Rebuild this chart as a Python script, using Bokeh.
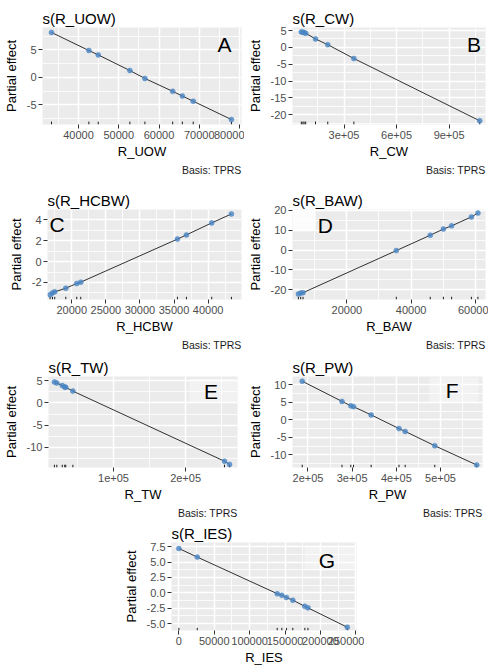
from bokeh.plotting import figure
from bokeh.models import FixedTicker, Title, Label, BoxAnnotation, Range1d, Spacer
from bokeh.layouts import column, row
from bokeh.embed import file_html
from bokeh.resources import INLINE

FONT = "Liberation Sans"

# ---------------- data ----------------
uow_x = [33280, 42570, 44900, 52760, 56500, 63400, 65800, 68500, 78000]
uow_y = [8.2, 4.9, 4.1, 1.25, -0.2, -2.55, -3.4, -4.35, -7.7]

cw_x = [56000, 65000, 72000, 81000, 137000, 207000, 356000, 1075000]
cw_y = [4.6, 4.5, 4.4, 4.2, 2.5, 0.8, -3.3, -21.8]

hcbw_x = [16820, 17170, 17500, 19120, 20730, 21320, 35500, 36820, 40530, 43420]
hcbw_y = [-3.17, -3.0, -2.9, -2.55, -2.1, -1.97, 2.15, 2.55, 3.7, 4.55]

baw_x = [4920, 5630, 6350, 35400, 45960, 50060, 52620, 58780, 60820]
baw_y = [-22.1, -21.6, -21.4, -0.3, 7.4, 10.5, 12.1, 16.6, 18.5]

tw_x = [18100, 21400, 29000, 32400, 33800, 43700, 254000, 261000]
tw_y = [4.7, 4.48, 3.9, 3.55, 3.5, 2.65, -13.1, -13.8]

pw_x = [187000, 277000, 297000, 303000, 343000, 406000, 420000, 487000, 582000]
pw_y = [11.0, 5.25, 4.0, 3.75, 1.4, -2.5, -3.3, -7.4, -12.9]

ies_x = [0, 26000, 139000, 145500, 152000, 161000, 178000, 182400, 238000]
ies_y = [7.2, 5.8, -0.15, -0.4, -0.77, -1.2, -2.2, -2.45, -5.6]

# tick values and labels
uow_xt = [40000, 50000, 60000, 70000, 80000]
uow_xl = ["40000", "50000", "60000", "70000", "80000"]
uow_xm = [35000, 45000, 55000, 65000, 75000]
uow_yt = [-5, 0, 5]
uow_yl = ["-5", "0", "5"]
uow_ym = [-7.5, -2.5, 2.5, 7.5]

cw_xt = [300000, 600000, 900000]
cw_xl = ["3e+05", "6e+05", "9e+05"]
cw_xm = [150000, 450000, 750000, 1050000]
cw_yt = [-20, -15, -10, -5, 0, 5]
cw_yl = ["-20", "-15", "-10", "-5", "0", "5"]
cw_ym = [-22.5, -17.5, -12.5, -7.5, -2.5, 2.5]

hcbw_xt = [20000, 25000, 30000, 35000, 40000]
hcbw_xl = ["20000", "25000", "30000", "35000", "40000"]
hcbw_xm = [17500, 22500, 27500, 32500, 37500, 42500]
hcbw_yt = [-2, 0, 2, 4]
hcbw_yl = ["-2", "0", "2", "4"]
hcbw_ym = [-3, -1, 1, 3]

baw_xt = [20000, 40000, 60000]
baw_xl = ["20000", "40000", "60000"]
baw_xm = [10000, 30000, 50000]
baw_yt = [-20, -10, 0, 10, 20]
baw_yl = ["-20", "-10", "0", "10", "20"]
baw_ym = [-15, -5, 5, 15]

tw_xt = [100000, 200000]
tw_xl = ["1e+05", "2e+05"]
tw_xm = [50000, 150000, 250000]
tw_yt = [-10, -5, 0, 5]
tw_yl = ["-10", "-5", "0", "5"]
tw_ym = [-12.5, -7.5, -2.5, 2.5]

pw_xt = [200000, 300000, 400000, 500000]
pw_xl = ["2e+05", "3e+05", "4e+05", "5e+05"]
pw_xm = [250000, 350000, 450000, 550000]
pw_yt = [-10, -5, 0, 5, 10]
pw_yl = ["-10", "-5", "0", "5", "10"]
pw_ym = [-12.5, -7.5, -2.5, 2.5, 7.5, 12.5]

ies_xt = [0, 50000, 100000, 150000, 200000, 250000]
ies_xl = ["0", "50000", "100000", "150000", "200000", "250000"]
ies_xm = [25000, 75000, 125000, 175000, 225000]
ies_yt = [-5.0, -2.5, 0.0, 2.5, 5.0, 7.5]
ies_yl = ["-5.0", "-2.5", "0.0", "2.5", "5.0", "7.5"]
ies_ym = [-3.75, -1.25, 1.25, 3.75, 6.25]


def panel(name, xs, ys, xr, yr, xt, xl, xm, yt, yl, ym, letter, lfx, lfy,
          box, box_alpha, width, height, bl, br, bt, bb, caption=True):
    p = figure(width=width, height=height, output_backend="svg",
               toolbar_location=None, x_range=Range1d(*xr), y_range=Range1d(*yr),
               min_border_left=bl, min_border_right=br,
               min_border_top=bt, min_border_bottom=bb,
               background_fill_color="#EBEBEB", border_fill_color="white",
               outline_line_color=None)
    p.title.text = "s(%s)" % name
    p.title.text_font = FONT
    p.title.text_font_size = "15px"
    p.title.text_font_style = "normal"
    p.title.text_color = "black"
    p.title.standoff = 2
    p.title.align = "left"

    p.xaxis.ticker = FixedTicker(ticks=xt, minor_ticks=xm)
    p.yaxis.ticker = FixedTicker(ticks=yt, minor_ticks=ym)
    p.xaxis.major_label_overrides = {v: s for v, s in zip(xt, xl)}
    p.yaxis.major_label_overrides = {v: s for v, s in zip(yt, yl)}
    p.xaxis.axis_label = name
    p.yaxis.axis_label = "Partial effect"
    for ax in (p.xaxis, p.yaxis):
        ax.axis_line_color = None
        ax.major_tick_line_color = "#333333"
        ax.major_tick_out = 4
        ax.major_tick_in = 0
        ax.minor_tick_line_color = None
        ax.major_label_text_font = FONT
        ax.major_label_text_font_size = "11px"
        ax.major_label_text_color = "#4D4D4D"
        ax.major_label_standoff = 2
        ax.axis_label_text_font = FONT
        ax.axis_label_text_font_size = "13px"
        ax.axis_label_text_font_style = "normal"
        ax.axis_label_text_color = "black"
    p.xaxis.axis_label_standoff = 2
    p.yaxis.axis_label_standoff = 5

    for g in (p.xgrid, p.ygrid):
        g.grid_line_color = "white"
        g.grid_line_width = 1.5
        g.minor_grid_line_color = "white"
        g.minor_grid_line_width = 0.8

    n = len(xs)
    ybase = yr[0]
    ytop = yr[0] + 0.03 * (yr[1] - yr[0])
    p.segment(x0=xs, y0=[ybase] * n, x1=xs, y1=[ytop] * n,
              line_color="#1a1a1a", line_width=1)
    p.line(xs, ys, line_color="black", line_width=0.8)
    p.scatter(xs, ys, size=5, fill_color="#4A86C4", line_color="#4A86C4",
              line_width=0.5, fill_alpha=0.8, line_alpha=0.9)

    if box is not None:
        fx0, fx1, fy0, fy1 = box
        p.add_layout(BoxAnnotation(
            left=xr[0] + fx0 * (xr[1] - xr[0]), right=xr[0] + fx1 * (xr[1] - xr[0]),
            bottom=yr[0] + fy0 * (yr[1] - yr[0]), top=yr[0] + fy1 * (yr[1] - yr[0]),
            fill_color="white", fill_alpha=box_alpha, line_color=None))
    p.add_layout(Label(x=xr[0] + lfx * (xr[1] - xr[0]), y=yr[0] + lfy * (yr[1] - yr[0]),
                       text=letter, text_font=FONT, text_font_size="21px",
                       text_align="center", text_baseline="middle", text_color="black"))
    if caption:
        cap = Title(text="Basis: TPRS", align="right", text_font=FONT,
                    text_font_size="10.5px", text_font_style="normal",
                    text_color="#1a1a1a", standoff=1)
        p.add_layout(cap, "below")
    return p


pA = panel("R_UOW", uow_x, uow_y, (31050, 80500), (-8.6, 9.1),
           uow_xt, uow_xl, uow_xm, uow_yt, uow_yl, uow_ym, "A", 0.915, 0.82,
           None, 0, 244, 176, 42, 3, 27, 51)
pB = panel("R_CW", cw_x, cw_y, (5600, 1108000), (-22.9, 5.9),
           cw_xt, cw_xl, cw_xm, cw_yt, cw_yl, cw_ym, "B", 0.94, 0.82,
           None, 0, 244, 176, 47, 3, 27, 51)
pC = panel("R_HCBW", hcbw_x, hcbw_y, (16440, 44900), (-3.63, 4.98),
           hcbw_xt, hcbw_xl, hcbw_xm, hcbw_yt, hcbw_yl, hcbw_ym, "C", 0.05, 0.83,
           None, 0, 244, 175, 47, 3, 33, 48)
pD = panel("R_BAW", baw_x, baw_y, (3080, 63170), (-24.8, 20.3),
           baw_xt, baw_xl, baw_xm, baw_yt, baw_yl, baw_ym, "D", 0.17, 0.82,
           (0.0, 0.12, 0.77, 1.0), 0.85, 244, 175, 46, 3, 33, 48)
pE = panel("R_TW", tw_x, tw_y, (9900, 272000), (-14.5, 5.93),
           tw_xt, tw_xl, tw_xm, tw_yt, tw_yl, tw_ym, "E", 0.86, 0.83,
           (0.745, 1.0, 0.72, 0.975), 0.35, 244, 168, 43, 7, 25, 49)
pF = panel("R_PW", pw_x, pw_y, (165000, 595000), (-13.6, 12.35),
           pw_xt, pw_xl, pw_xm, pw_yt, pw_yl, pw_ym, "F", 0.84, 0.85,
           (0.72, 0.98, 0.72, 0.99), 0.35, 244, 168, 42, 6, 25, 49)
pG = panel("R_IES", ies_x, ies_y, (-10400, 251000), (-6.13, 8.17),
           ies_xt, ies_xl, ies_xm, ies_yt, ies_yl, ies_ym, "G", 0.84, 0.80,
           (0.72, 0.995, 0.68, 0.96), 0.35, 244, 148, 42, 8, 23, 35, caption=False)

layout = column(row(pA, pB), row(pC, pD), row(pE, pF),
                row(Spacer(width=120, height=148), pG))

open("out.html", "w").write(file_html(layout, INLINE))
